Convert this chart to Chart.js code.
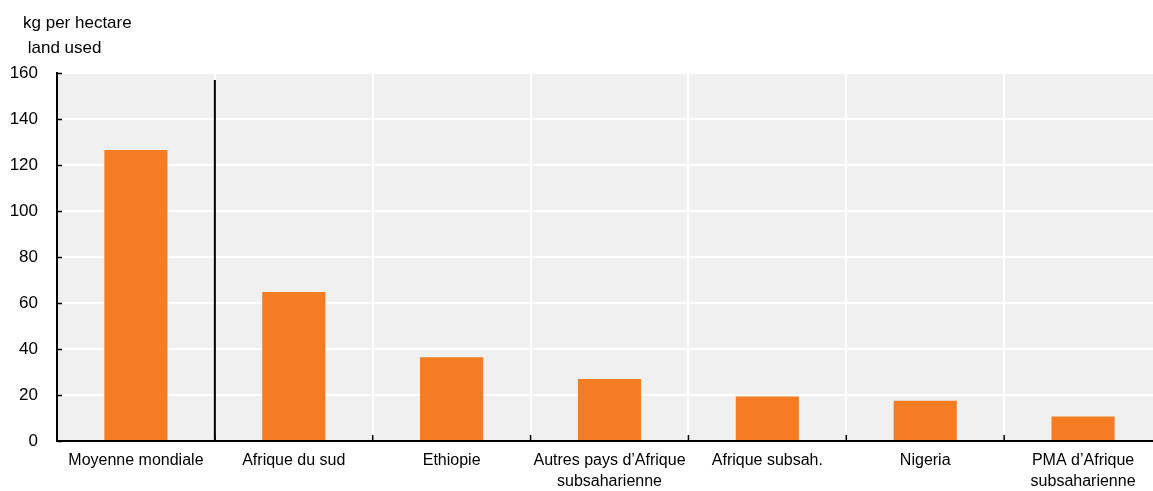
<!DOCTYPE html>
<html>
<head>
<meta charset="utf-8">
<script src="https://cdn.jsdelivr.net/npm/chart.js@4.4.0/dist/chart.umd.min.js"></script>
<style>
  html, body { margin: 0; padding: 0; background: #ffffff; overflow: hidden; }
  #wrap { width: 1162px; height: 491px; position: relative; }
</style>
</head>
<body>
<div id="wrap"><canvas id="myChart"></canvas></div>
<script>
// data
const categories = [
  'Moyenne mondiale',
  'Afrique du sud',
  'Ethiopie',
  ['Autres pays d\u2019Afrique', 'subsaharienne'],
  'Afrique subsah.',
  'Nigeria',
  ['PMA d\u2019Afrique', 'subsaharienne']
];
const fertiliserUse = [126.5, 64.8, 36.4, 27, 19.3, 17.5, 10.7];
const yTicks = [0, 20, 40, 60, 80, 100, 120, 140, 160];
const unitLines = ['kg per hectare', ' land used'];

const FONT = '"Liberation Sans", Arial, sans-serif';

// grey plot background + unit label + inner ticks + separator line
const decor = {
  id: 'decor',
  beforeDraw(chart) {
    const { ctx, chartArea: a } = chart;
    ctx.save();
    ctx.fillStyle = '#f0f0f0';
    ctx.fillRect(a.left, a.top, a.right - a.left, a.bottom - a.top);
    ctx.restore();
  },
  afterDraw(chart) {
    const { ctx, chartArea: a, scales } = chart;
    ctx.save();
    ctx.fillStyle = '#000';
    ctx.font = '17px ' + FONT;
    ctx.textBaseline = 'alphabetic';
    ctx.fillText(unitLines[0], 23, 28);
    ctx.fillText(unitLines[1], 23, 53);

    ctx.strokeStyle = '#000';
    ctx.lineWidth = 1.5;
    ctx.beginPath();
    yTicks.forEach(v => {
      const y = Math.round(scales.y.getPixelForValue(v)) + 0.5;
      ctx.moveTo(a.left, y);
      ctx.lineTo(a.left + 5, y);
    });
    for (let i = 1; i < categories.length; i++) {
      const x = (scales.x.getPixelForValue(i - 1) + scales.x.getPixelForValue(i)) / 2;
      ctx.moveTo(x, a.bottom);
      ctx.lineTo(x, a.bottom - 6);
    }
    ctx.stroke();

    // separator between world average and the countries
    const sx = (scales.x.getPixelForValue(0) + scales.x.getPixelForValue(1)) / 2;
    ctx.lineWidth = 2;
    ctx.beginPath();
    ctx.moveTo(sx, scales.y.getPixelForValue(157));
    ctx.lineTo(sx, a.bottom);
    ctx.stroke();
    ctx.restore();
  }
};

new Chart(document.getElementById('myChart'), {
  type: 'bar',
  data: {
    labels: categories,
    datasets: [{
      data: fertiliserUse,
      backgroundColor: '#f47d23',
      borderWidth: 0,
      barPercentage: 0.4,
      categoryPercentage: 1
    }]
  },
  options: {
    responsive: true,
    maintainAspectRatio: false,
    animation: false,
    layout: { padding: { top: 73, left: 10, right: 0, bottom: 0 } },
    plugins: {
      legend: { display: false },
      tooltip: { enabled: false }
    },
    scales: {
      x: {
        offset: true,
        grid: { offset: true, color: '#ffffff', lineWidth: 2, drawTicks: false },
        border: { color: '#000', width: 2 },
        ticks: { color: '#000', padding: 9, font: { family: FONT, size: 16, lineHeight: 1.3 }, maxRotation: 0, autoSkip: false },
        afterFit(scale) { scale.height = 50; }
      },
      y: {
        min: 0,
        max: 160,
        afterBuildTicks(scale) { scale.ticks = yTicks.map(v => ({ value: v })); },
        grid: { color: '#ffffff', lineWidth: 2, drawTicks: false },
        border: { color: '#000', width: 2 },
        ticks: { color: '#000', padding: 19, font: { family: FONT, size: 17 } },
        afterFit(scale) { scale.width = 47; }
      }
    }
  },
  plugins: [decor]
});
</script>
</body>
</html>
